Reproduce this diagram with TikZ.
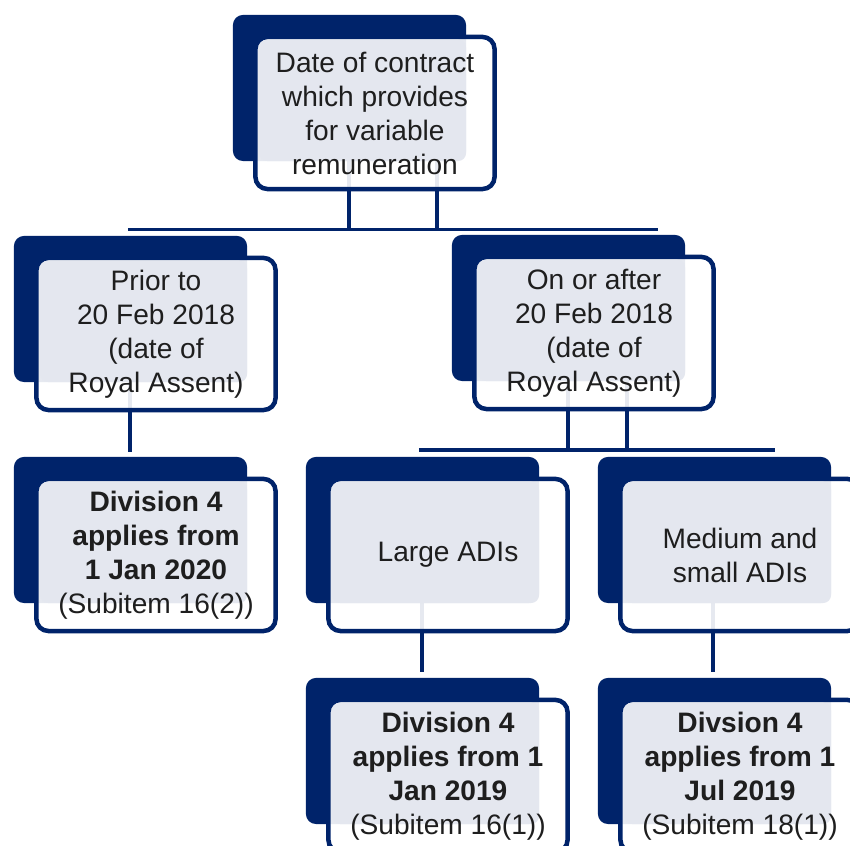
\documentclass[tikz,border=0pt]{standalone}
\usepackage{fontspec}
\setmainfont{Liberation Sans}
\usetikzlibrary{calc}
\pgfdeclarelayer{bg}
\pgfsetlayers{bg,main}
\definecolor{navy}{HTML}{00236A}
\definecolor{panel}{HTML}{E4E7EF}
\definecolor{ink}{HTML}{1E1E1E}
\tikzset{
  backbox/.style={fill=navy, draw=none, rounded corners=0.1cm, minimum width=2.33cm, minimum height=1.46cm, inner sep=0pt, outer sep=0pt},
  framebox/.style={draw=navy, line width=0.045cm, fill=white, fill opacity=0.9, rounded corners=0.12cm, minimum width=2.39cm, minimum height=1.52cm, inner sep=0pt},
  boxtext/.style={text=ink, align=center, font=\fontsize{8}{9.67}\selectfont, inner sep=0pt},
  link/.style={draw=navy, line width=0.045cm},
  bar/.style={draw=navy, line width=0.035cm},
}
\newcommand\mkbox[4]{%
  \node[backbox] (#1-back) at (#2-25.5,#3-25) {};
  \node[framebox] (#1-frame) at (#2,#3) {};
  \fill[panel, rounded corners=0.08cm] ($(#1-frame.north west)+(0.06cm,-0.05cm)$) rectangle (#1-back.south east);
  \node[boxtext] (#1) at (#2,#3) {#4};
}
\begin{document}
\begin{tikzpicture}[x=0.01cm, y=-0.01cm]
\useasboundingbox (0,0) rectangle (850,846);
\clip (0,0) rectangle (850,846);

\mkbox{top}{375}{113}{Date of contract\\which provides\\for variable\\remuneration}
\mkbox{prior}{156}{334}{Prior to\\20 Feb 2018\\(date of\\Royal Assent)}
\mkbox{after}{594}{333}{On or after\\20 Feb 2018\\(date of\\Royal Assent)}
\mkbox{divA}{156}{555}{\textbf{Division 4}\\\textbf{applies from}\\\textbf{1 Jan 2020}\\(Subitem 16(2))}
\mkbox{large}{448}{555}{Large ADIs}
\mkbox{medium}{740}{555}{Medium and\\small ADIs}
\mkbox{divB}{448}{776}{\textbf{Division 4}\\\textbf{applies from 1}\\\textbf{Jan 2019}\\(Subitem 16(1))}
\mkbox{divC}{740}{776}{\textbf{Divsion 4}\\\textbf{applies from 1}\\\textbf{Jul 2019}\\(Subitem 18(1))}

\begin{pgfonlayer}{bg}
  % bus under the top box
  \coordinate (busA-w) at (128,229.5);
  \coordinate (busA-e) at (658,229.5);
  \draw[bar] (busA-w) -- (busA-e);
  \coordinate (t1) at ($(top-frame.center)+(-26,0)$);
  \coordinate (t2) at ($(top-frame.center)+(62,0)$);
  \draw[link] (t1) -- (t1 |- busA-w);
  \draw[link] (t2) -- (t2 |- busA-w);
  % bus under the right box
  \coordinate (busB-w) at (419,450);
  \coordinate (busB-e) at (775,450);
  \draw[bar] (busB-w) -- (busB-e);
  \coordinate (a1) at ($(after-frame.center)+(-26,0)$);
  \coordinate (a2) at ($(after-frame.center)+(33,0)$);
  \draw[link] (a1) -- (a1 |- busB-w);
  \draw[link] (a2) -- (a2 |- busB-w);
  % single links
  \coordinate (p1) at ($(prior-frame.center)+(-26,0)$);
  \draw[link] (p1) -- ($(p1 |- divA-back.north)+(0,-5)$);
  \coordinate (l1) at ($(large-frame.center)+(-26,0)$);
  \draw[link] (l1) -- ($(l1 |- divB-back.north)+(0,-6)$);
  \coordinate (m1) at ($(medium-frame.center)+(-27,0)$);
  \draw[link] (m1) -- ($(m1 |- divC-back.north)+(0,-6)$);
\end{pgfonlayer}
\end{tikzpicture}
\end{document}
